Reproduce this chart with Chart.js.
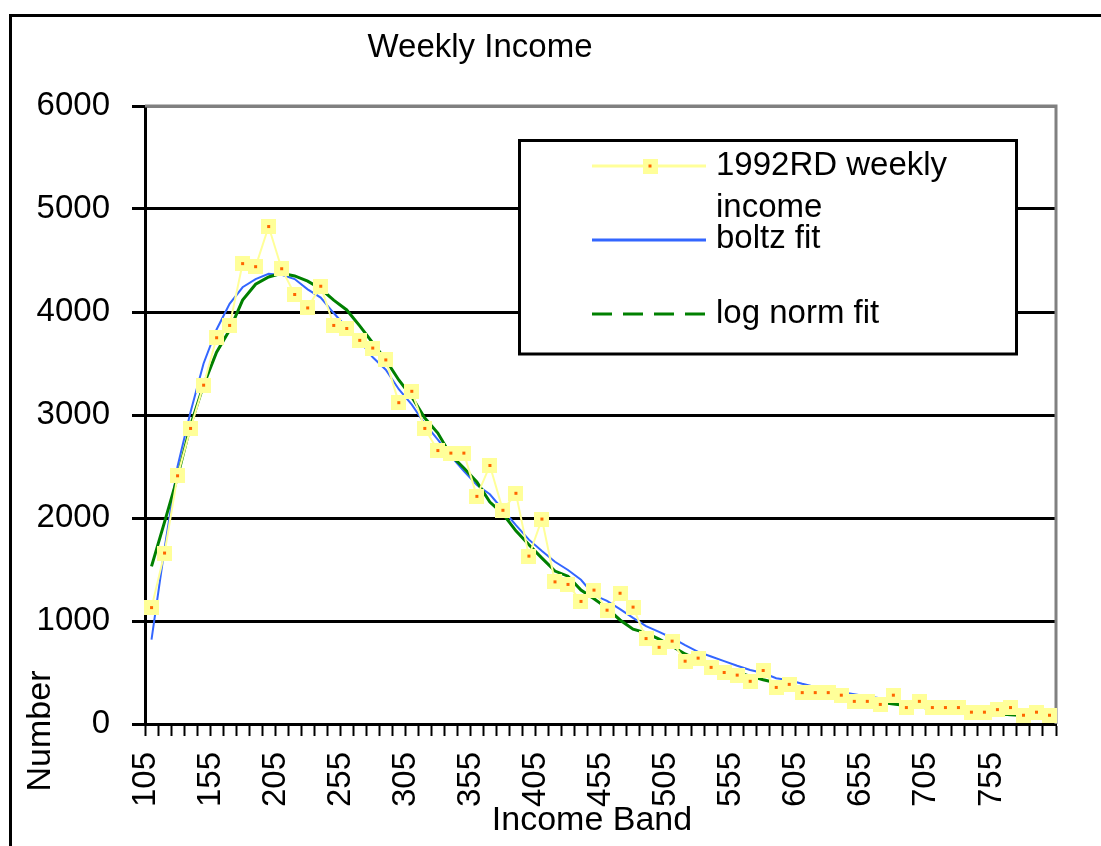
<!DOCTYPE html>
<html>
<head>
<meta charset="utf-8">
<title>Weekly Income</title>
<script src="https://cdn.jsdelivr.net/npm/chart.js@4.4.1/dist/chart.umd.min.js"></script>
<style>
  html, body { margin: 0; padding: 0; background: #fff; }
  #wrap { width: 1101px; height: 846px; }
</style>
</head>
<body>
<div id="wrap"><canvas id="incomeChart" width="1101" height="846"></canvas></div>
<script>
// DATOS

const bands = ['105', '115', '125', '135', '145', '155', '165', '175', '185', '195',
               '205', '215', '225', '235', '245', '255', '265', '275', '285', '295',
               '305', '315', '325', '335', '345', '355', '365', '375', '385', '395',
               '405', '415', '425', '435', '445', '455', '465', '475', '485', '495',
               '505', '515', '525', '535', '545', '555', '565', '575', '585', '595',
               '605', '615', '625', '635', '645', '655', '665', '675', '685', '695',
               '705', '715', '725', '735', '745', '755', '765', '775', '785', '795'];

const shownBands = ['105', '155', '205', '255', '305', '355', '405', '455', '505', '555', '605', '655', '705', '755'];

const yTicks = [0, 1000, 2000, 3000, 4000, 5000, 6000];

const weeklyIncome = [1130, 1660, 2410, 2870, 3290, 3750, 3870, 4470, 4440, 4830,
                      4420, 4170, 4040, 4250, 3870, 3840, 3725, 3650, 3535, 3120,
                      3230, 2870, 2655, 2630, 2630, 2210, 2510, 2075, 2240, 1630,
                      1990, 1380, 1355, 1190, 1300, 1105, 1270, 1135, 830, 745,
                      805, 610, 640, 550, 500, 475, 415, 520, 355, 385,
                      305, 305, 305, 280, 220, 220, 190, 280, 160, 220,
                      160, 160, 160, 115, 115, 140, 160, 85, 115, 85];

const boltzFit = [820, 1700, 2500, 3030, 3500, 3830, 4080, 4240, 4320, 4370,
                  4360, 4320, 4220, 4140, 3990, 3850, 3720, 3560, 3440, 3250,
                  3100, 2915, 2760, 2600, 2455, 2320, 2230, 2080, 1930, 1790,
                  1680, 1575, 1495, 1400, 1250, 1195, 1115, 1030, 950, 895,
                  835, 765, 700, 655, 610, 565, 525, 495, 445, 425,
                  390, 360, 335, 310, 290, 268, 250, 230, 215, 200,
                  185, 172, 160, 148, 137, 127, 118, 110, 102, 95];

const logNormFit = [1530, 1960, 2400, 2900, 3290, 3610, 3825, 4115, 4270, 4340,
                    4375, 4350, 4300, 4225, 4115, 4020, 3865, 3700, 3535, 3340,
                    3175, 2970, 2825, 2610, 2485, 2350, 2155, 2040, 1875, 1740,
                    1610, 1485, 1435, 1300, 1215, 1125, 1010, 920, 885, 825,
                    755, 680, 620, 580, 540, 500, 465, 430, 400, 370,
                    340, 315, 290, 270, 250, 230, 210, 195, 180, 165,
                    150, 140, 130, 120, 110, 100, 90, 82, 75, 68];

const FONT = '"Liberation Sans", Arial, sans-serif';

// marcador amarillo con punto naranja
const marker = document.createElement('canvas');
marker.width = 15;
marker.height = 15;
(function () {
    const m = marker.getContext('2d');
    m.fillStyle = '#ffff99';
    m.fillRect(0, 0, 15, 15);
    m.fillStyle = '#ff6600';
    m.fillRect(6, 6, 3, 3);
})();

// marco exterior y bordes grises del area
const framePlugin = {
    id: 'frame',
    beforeDraw(chart) {
        const c = chart.ctx;
        c.save();
        c.fillStyle = '#fff';
        c.fillRect(0, 0, chart.width, chart.height);
        c.strokeStyle = '#000';
        c.lineWidth = 3;
        c.beginPath();
        c.moveTo(10.5, chart.height);
        c.lineTo(10.5, 15.5);
        c.lineTo(chart.width, 15.5);
        c.stroke();
        c.restore();
    },
    beforeDatasetsDraw(chart) {
        const a = chart.chartArea;
        const c = chart.ctx;
        c.save();
        c.strokeStyle = '#808080';
        c.lineWidth = 3;
        c.beginPath();
        c.moveTo(a.left, a.top);
        c.lineTo(a.right, a.top);
        c.lineTo(a.right, a.bottom);
        c.stroke();
        c.restore();
    }
};

// leyenda dentro del grafico
const legendPlugin = {
    id: 'boxLegend',
    afterDatasetsDraw(chart) {
        const c = chart.ctx;
        c.save();
        c.fillStyle = '#fff';
        c.fillRect(519.5, 140.5, 497, 213.5);
        c.strokeStyle = '#000';
        c.lineWidth = 3;
        c.strokeRect(519.5, 140.5, 497, 213.5);

        c.lineWidth = 3;
        c.strokeStyle = '#ffff99';
        c.beginPath(); c.moveTo(592, 166); c.lineTo(706, 166); c.stroke();
        c.drawImage(marker, 650 - 7.5, 166 - 7.5);

        c.strokeStyle = '#3366ff';
        c.beginPath(); c.moveTo(592, 240); c.lineTo(706, 240); c.stroke();

        c.strokeStyle = '#008000';
        c.setLineDash([20, 11]);
        c.beginPath(); c.moveTo(592, 314); c.lineTo(706, 314); c.stroke();
        c.setLineDash([]);

        c.fillStyle = '#000';
        c.font = '33px ' + FONT;
        c.textAlign = 'left';
        c.textBaseline = 'alphabetic';
        c.fillText('1992RD weekly', 716, 175);
        c.fillText('income', 716, 217);
        c.fillText('boltz fit', 716, 248);
        c.fillText('log norm fit', 716, 323);
        c.restore();
    }
};

// titulos
const textPlugin = {
    id: 'texts',
    afterDraw(chart) {
        const c = chart.ctx;
        c.save();
        c.fillStyle = '#000';
        c.font = '33px ' + FONT;
        c.textAlign = 'center';
        c.textBaseline = 'alphabetic';
        c.fillText('Weekly Income', 480, 57);

        c.font = '34px ' + FONT;
        c.fillText('Income Band', 592, 830);

        c.translate(50, 731);
        c.rotate(-Math.PI / 2);
        c.fillText('Number', 0, 0);
        c.restore();
    }
};

const ctx = document.getElementById('incomeChart').getContext('2d');

const incomeChart = new Chart(ctx, {
    type: 'line',
    data: {
        labels: bands,
        datasets: [{
            label: '1992RD weekly income',
            data: weeklyIncome,
            borderColor: '#ffff99',
            borderWidth: 2,
            pointStyle: marker,
            pointRadius: 7,
            tension: 0,
            order: 0
        }, {
            label: 'boltz fit',
            data: boltzFit,
            borderColor: '#3366ff',
            borderWidth: 2,
            pointRadius: 0,
            tension: 0,
            order: 2
        }, {
            label: 'log norm fit',
            data: logNormFit,
            borderColor: '#008000',
            borderWidth: 3,
            pointRadius: 0,
            tension: 0,
            order: 1
        }]
    },
    options: {
        responsive: false,
        animation: false,
        layout: { padding: { top: 106, right: 45, left: 0, bottom: 0 } },
        plugins: {
            legend: { display: false },
            tooltip: { enabled: false },
            title: { display: false }
        },
        scales: {
            x: {
                offset: true,
                grid: {
                    display: true,
                    drawOnChartArea: false,
                    drawTicks: true,
                    tickLength: 12,
                    tickWidth: 2,
                    tickColor: '#000',
                    offset: true
                },
                border: { display: true, color: '#000', width: 3 },
                ticks: {
                    autoSkip: false,
                    maxRotation: 90,
                    minRotation: 90,
                    padding: 16,
                    labelOffset: -6,
                    color: '#000',
                    font: { family: FONT, size: 33 },
                    callback: function (value) {
                        const l = this.getLabelForValue(value);
                        return shownBands.includes(l) ? l : '';
                    }
                },
                afterFit: s => {
                    s.height = 122;
                    s.paddingLeft = 0;
                    s.paddingRight = 0;
                }
            },
            y: {
                min: 0,
                max: 6000,
                afterBuildTicks: s => { s.ticks = yTicks.map(v => ({ value: v })); },
                grid: {
                    color: c => (c.tick && c.tick.value === 6000) ? '#808080' : '#000',
                    lineWidth: 3,
                    tickLength: 13,
                    tickColor: '#000',
                    tickWidth: 3
                },
                border: { display: true, color: '#000', width: 3 },
                ticks: {
                    padding: 22,
                    color: '#000',
                    font: { family: FONT, size: 33 },
                    callback: v => String(v)
                },
                afterFit: s => {
                    s.width = 145;
                    s.paddingTop = 0;
                    s.paddingBottom = 0;
                }
            }
        }
    },
    plugins: [framePlugin, legendPlugin, textPlugin]
});
</script>
</body>
</html>
